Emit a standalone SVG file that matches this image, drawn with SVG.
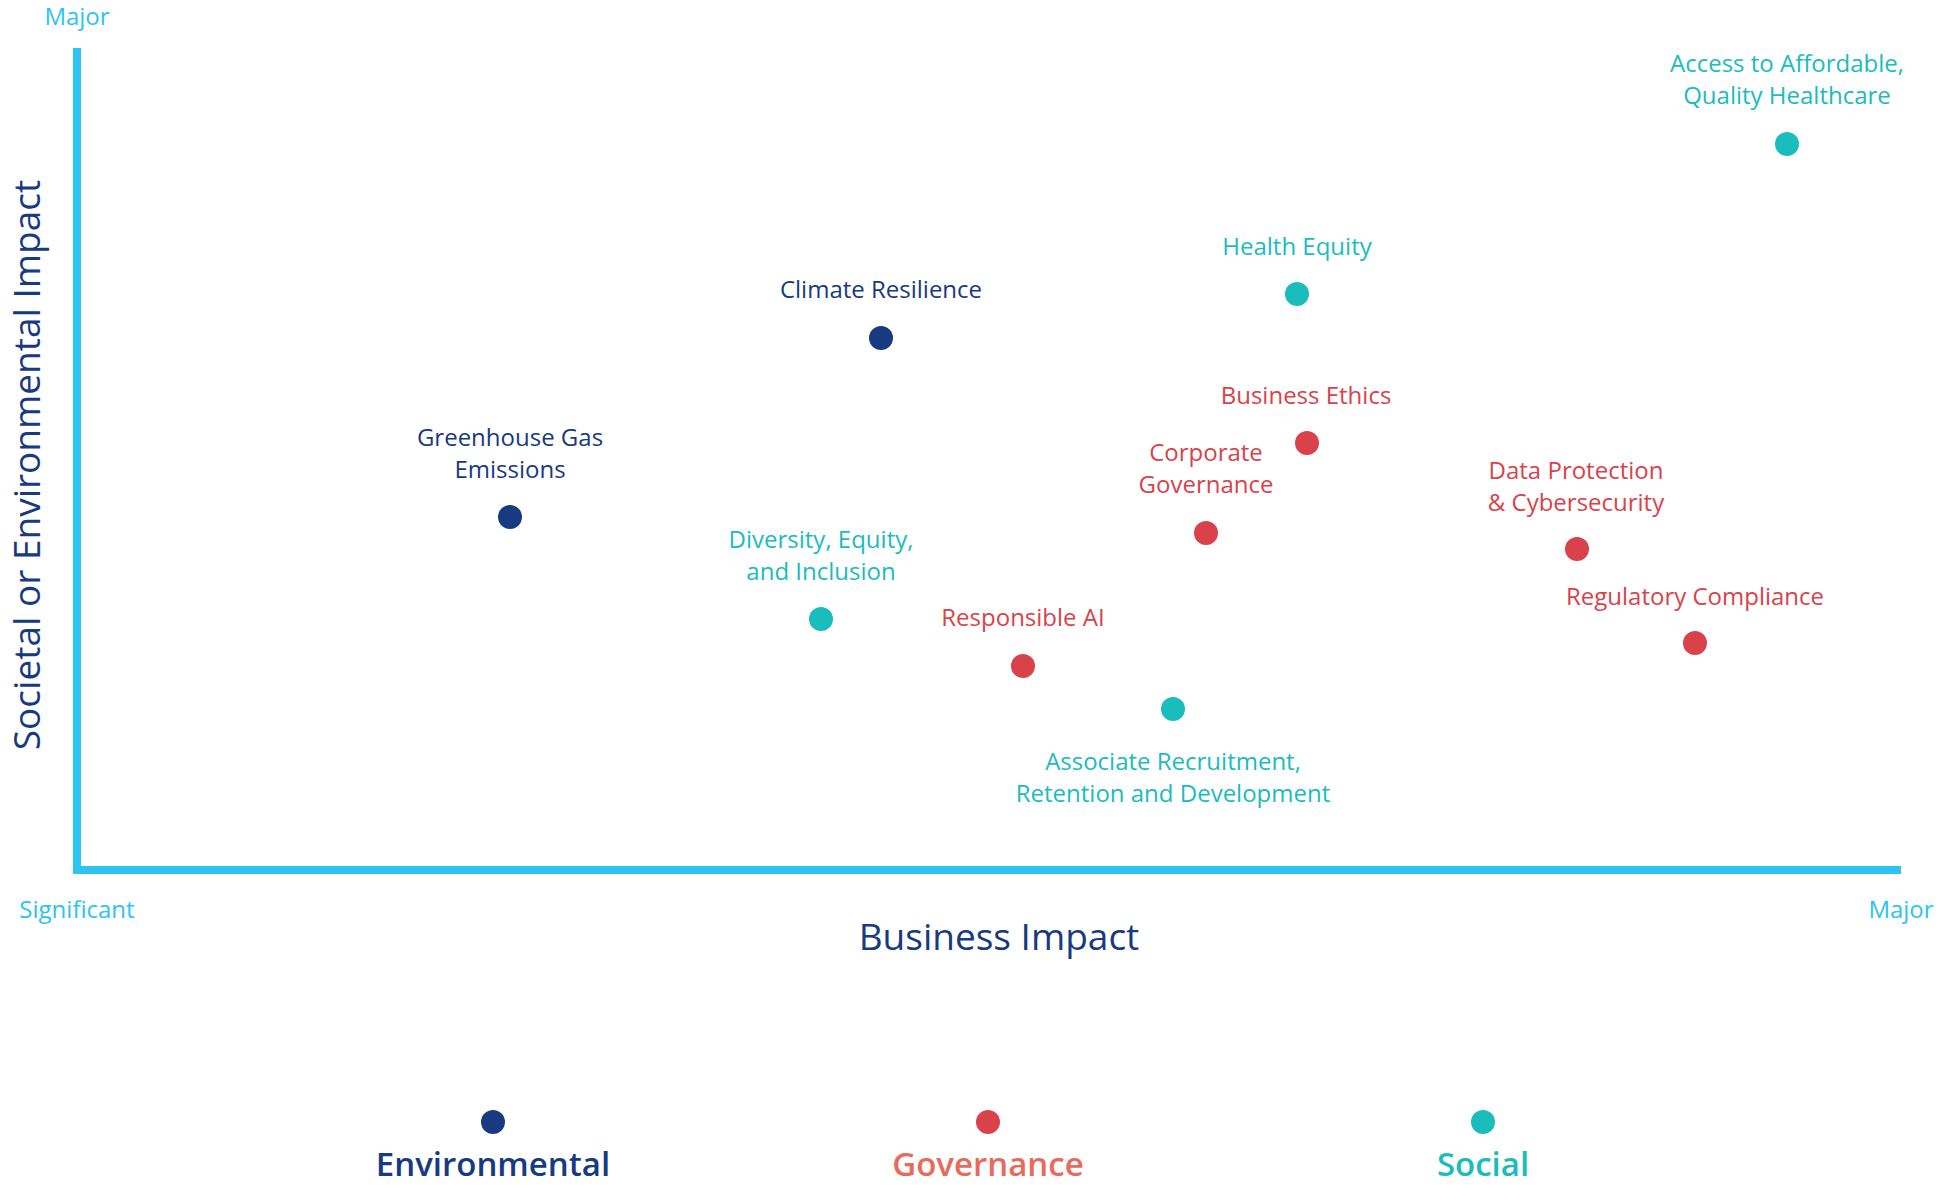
<svg xmlns="http://www.w3.org/2000/svg" width="1944" height="1185" viewBox="0 0 1944 1185">
<style>
text{font-family:"Open Sans","Noto Sans",sans-serif;text-anchor:middle;dominant-baseline:central}
.l{font-size:24px;font-weight:500}
.env{fill:#173a80}.gov{fill:#d9424b}.soc{fill:#1bbcbc}
.ax{fill:#2ec4f2;font-size:24px}
.lg{font-size:33px;font-weight:600}
</style>
<rect width="1944" height="1185" fill="#fff"/>
<g id="axes" stroke="#2ec4f2" stroke-width="8" fill="none">
<line x1="77" y1="48" x2="77" y2="874"/>
<line x1="73" y1="870" x2="1901" y2="870"/>
</g>
<text class="ax" x="77" y="15">Major</text>
<text class="ax" x="77" y="908">Significant</text>
<text class="ax" x="1901" y="908">Major</text>
<text class="env" x="999" y="935" font-size="37" font-weight="500">Business Impact</text>
<text class="env" x="25" y="465" font-size="37" font-weight="500" transform="rotate(-90 25 465)">Societal or Environmental Impact</text>
<g id="connectors"/>
<g id="climate"><circle class="env" cx="881" cy="338" r="12"/><text class="l env" x="881" y="288">Climate Resilience</text></g>
<g id="ghg"><circle class="env" cx="510" cy="517" r="12"/><text class="l env" x="510" y="436">Greenhouse Gas</text><text class="l env" x="510" y="468">Emissions</text></g>
<g id="health"><circle class="soc" cx="1297" cy="294" r="12"/><text class="l soc" x="1297" y="245">Health Equity</text></g>
<g id="access"><circle class="soc" cx="1787" cy="144" r="12"/><text class="l soc" x="1787" y="62">Access to Affordable,</text><text class="l soc" x="1787" y="94">Quality Healthcare</text></g>
<g id="ethics"><circle class="gov" cx="1307" cy="443" r="12"/><text class="l gov" x="1306" y="394">Business Ethics</text></g>
<g id="corpgov"><circle class="gov" cx="1206" cy="533" r="12"/><text class="l gov" x="1206" y="451">Corporate</text><text class="l gov" x="1206" y="483">Governance</text></g>
<g id="data"><circle class="gov" cx="1577" cy="549" r="12"/><text class="l gov" x="1576" y="469">Data Protection</text><text class="l gov" x="1576" y="501">&amp; Cybersecurity</text></g>
<g id="reg"><circle class="gov" cx="1695" cy="643" r="12"/><text class="l gov" x="1695" y="595">Regulatory Compliance</text></g>
<g id="dei"><circle class="soc" cx="821" cy="619" r="12"/><text class="l soc" x="821" y="538">Diversity, Equity,</text><text class="l soc" x="821" y="570">and Inclusion</text></g>
<g id="ai"><circle class="gov" cx="1023" cy="666" r="12"/><text class="l gov" x="1023" y="616">Responsible AI</text></g>
<g id="assoc"><circle class="soc" cx="1173" cy="709" r="12"/><text class="l soc" x="1173" y="760">Associate Recruitment,</text><text class="l soc" x="1173" y="792">Retention and Development</text></g>
<g id="legend-env"><circle class="env" cx="493" cy="1122" r="12"/><text class="lg env" x="493" y="1163">Environmental</text></g>
<g id="legend-gov"><circle class="gov" cx="988" cy="1122" r="12"/><text class="lg" fill="#e86a5c" x="988" y="1163">Governance</text></g>
<g id="legend-soc"><circle class="soc" cx="1483" cy="1122" r="12"/><text class="lg soc" x="1483" y="1163">Social</text></g>
</svg>
